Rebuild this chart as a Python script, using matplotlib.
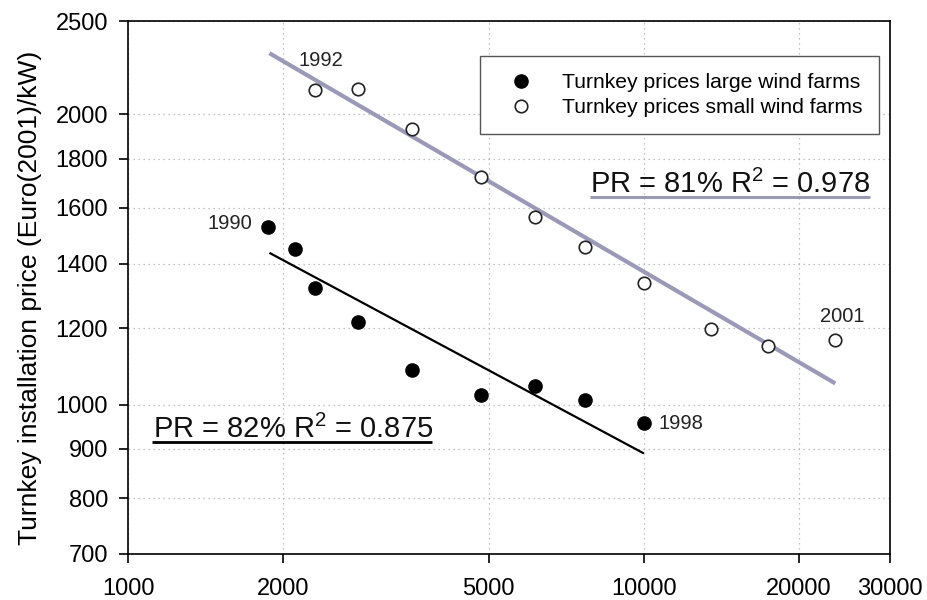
import matplotlib
matplotlib.use("Agg")
import matplotlib.pyplot as plt
from matplotlib.ticker import FixedLocator, FixedFormatter, NullLocator

plt.rcParams['font.family'] = ['Liberation Sans', 'DejaVu Sans']
plt.rcParams['mathtext.fontset'] = 'custom'
plt.rcParams['mathtext.rm'] = 'Liberation Sans'
plt.rcParams['mathtext.it'] = 'Liberation Sans:italic'

# Data (cumulative installed capacity vs turnkey price)
large_x = [1870, 2110, 2307, 2787, 3555, 4841, 6142, 7680, 10000]
large_y = [1529, 1450, 1322, 1217, 1085, 1024, 1045, 1010, 957]
small_x = [2307, 2787, 3555, 4830, 6142, 7680, 10000, 13490, 17410, 23420]
small_y = [2121, 2125, 1930, 1724, 1564, 1456, 1338, 1198, 1149, 1167]

# Fitted experience curves (end points)
large_fit_x = [1880, 10000]
large_fit_y = [1437, 890]
small_fit_x = [1880, 23500]
small_fit_y = [2315, 1052]

x_ticks = [1000, 2000, 5000, 10000, 20000, 30000]
y_ticks = [700, 800, 900, 1000, 1200, 1400, 1600, 1800, 2000, 2500]

line_col = '#9a9ab8'

fig = plt.figure(figsize=(9.27, 6), dpi=100)
ax = fig.add_axes([0.1381, 0.0767, 0.822, 0.8883])
ax.set_xscale('log')
ax.set_yscale('log')
ax.set_xlim(1000, 30000)
ax.set_ylim(700, 2500)

ax.xaxis.set_major_locator(FixedLocator(x_ticks))
ax.xaxis.set_major_formatter(FixedFormatter([str(v) for v in x_ticks]))
ax.xaxis.set_minor_locator(NullLocator())
ax.yaxis.set_major_locator(FixedLocator(y_ticks))
ax.yaxis.set_major_formatter(FixedFormatter([str(v) for v in y_ticks]))
ax.yaxis.set_minor_locator(NullLocator())
ax.tick_params(axis='both', which='major', labelsize=17, direction='out',
               length=6.5, width=1.2, color='black')
ax.tick_params(axis='x', pad=11)
ax.tick_params(axis='y', pad=8)

ax.grid(True, which='major', linestyle=(0, (1, 3)), color='#b0b0b0', linewidth=0.9)
for s in ax.spines.values():
    s.set_linewidth(1.2)

ax.plot(small_fit_x, small_fit_y, color=line_col, lw=3, zorder=3, solid_capstyle='butt')
ax.plot(large_fit_x, large_fit_y, color='black', lw=1.6, zorder=3, solid_capstyle='butt')

ax.plot(large_x, large_y, 'o', color='black', markersize=9.5, zorder=4,
        label='Turnkey prices large wind farms')
ax.plot(small_x, small_y, 'o', markerfacecolor='white', markeredgecolor='#222222',
        markeredgewidth=1.2, markersize=9, zorder=4,
        label='Turnkey prices small wind farms')

ax.set_ylabel('Turnkey installation price (Euro(2001)/kW)', fontsize=19)
ax.yaxis.set_label_coords(-0.113, 0.48)

leg = ax.legend(loc='upper right', bbox_to_anchor=(0.9855, 0.9343), fontsize=15.2,
                frameon=True, fancybox=False, edgecolor='#555555', framealpha=1,
                borderpad=0.8, handletextpad=0.75, labelspacing=0.3, borderaxespad=0,
                handlelength=2.3, markerscale=1.0)
leg.get_frame().set_linewidth(1.0)

# Year annotations
ax.text(2364, 2277, '1992', fontsize=14.5, ha='center', va='center', color='#222222')
ax.text(1741, 1543, '1990', fontsize=14.5, ha='right', va='center', color='#222222')
ax.text(10690, 957, '1998', fontsize=14.5, ha='left', va='center', color='#222222')
ax.text(24240, 1234, '2001', fontsize=14.5, ha='center', va='center', color='#222222')

# PR annotations with underlines
ax.text(0.606, 0.677, 'PR = 81% R$^{2}$ = 0.978', transform=ax.transAxes,
        fontsize=21, ha='left', va='baseline', color='#111111')
ax.plot([0.606, 0.974], [0.670, 0.670], transform=ax.transAxes, color=line_col,
        lw=2.2, solid_capstyle='butt', clip_on=False)
ax.text(0.0328, 0.217, 'PR = 82% R$^{2}$ = 0.875', transform=ax.transAxes,
        fontsize=21, ha='left', va='baseline', color='#111111')
ax.plot([0.0315, 0.399], [0.2107, 0.2107], transform=ax.transAxes, color='black',
        lw=2.0, solid_capstyle='butt', clip_on=False)

fig.savefig('out.png', dpi=100)
